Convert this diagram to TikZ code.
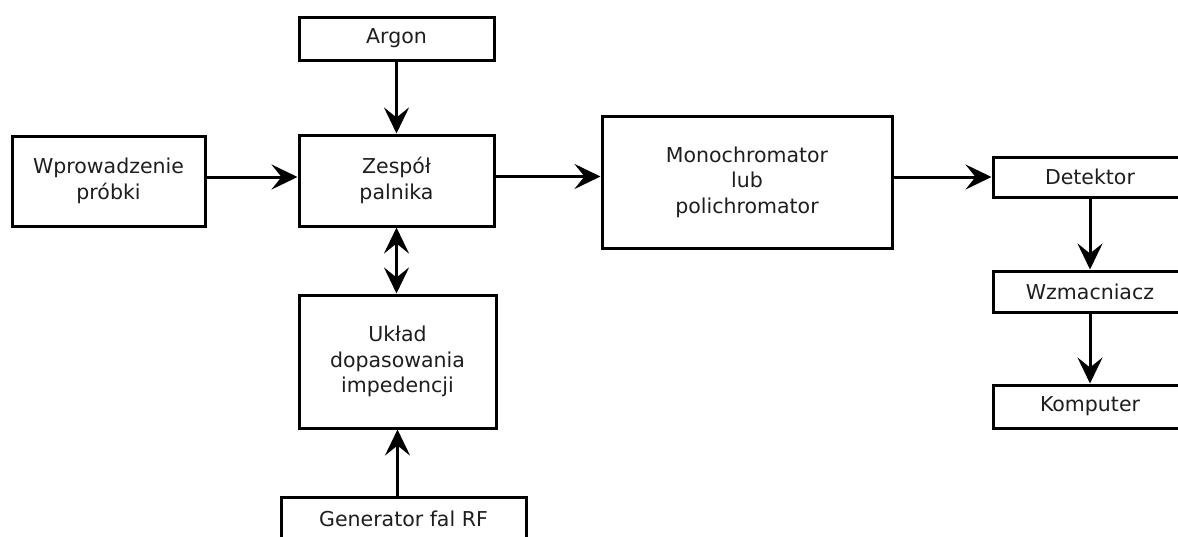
\documentclass[tikz,border=0pt]{standalone}
\usepackage{fontspec}
\setmainfont{DejaVu Sans}
\usetikzlibrary{arrows.meta}
\definecolor{txt}{HTML}{1E1E1E}
\tikzset{
  blk/.style={draw=black, line width=3pt, fill=white, inner sep=0pt, align=center,
    text=txt, font=\fontsize{20.5}{25.5}\selectfont},
  tip/.tip={Stealth[length=26pt,width=25pt,inset=10pt]},
  arr/.style={line width=3pt, -tip},
  darr/.style={line width=3pt, tip-tip}
}
\begin{document}
\begin{tikzpicture}[x=1pt,y=-1pt]
\clip (0,0) rectangle (1178,536);
\useasboundingbox (0,0) rectangle (1178,536);
\fill[white] (0,0) rectangle (1178,536);

\node[blk, minimum width=195pt, minimum height=43pt] (arg) at (396.5,38.5) {Argon};
\node[blk, minimum width=193pt, minimum height=90pt] (wp) at (108.5,181) {Wprowadzenie\\próbki};
\node[blk, minimum width=195pt, minimum height=91pt] (zes) at (396.5,180.5) {Zespół\\palnika};
\node[blk, minimum width=290pt, minimum height=132pt] (mono) at (747,182) {Monochromator\\lub\\polichromator};
\node[blk, minimum width=194pt, minimum height=40pt] (det) at (1090,177) {Detektor};
\node[blk, minimum width=194pt, minimum height=41pt] (wzm) at (1090,291.5) {Wzmacniacz};
\node[blk, minimum width=194pt, minimum height=43pt] (kom) at (1090,406.5) {Komputer};
\node[blk, minimum width=197pt, minimum height=133pt] (ukl) at (397.5,361.5) {Układ\\dopasowania\\impedencji};
\node[blk, minimum width=245pt, minimum height=43pt] (gen) at (403.5,518.5) {Generator fal RF};

\draw[arr] (arg.south) -- (arg.south |- zes.north);
\draw[arr] ([yshift=4pt]wp.east) -- ([yshift=4pt]wp.east -| zes.west);
\draw[arr] ([yshift=4pt]zes.east) -- ([yshift=4pt]zes.east -| mono.west);
\draw[arr] (mono.east |- det.west) -- (det.west);
\draw[darr] (zes.south) -- (zes.south |- ukl.north);
\draw[arr] (ukl.south |- gen.north) -- (ukl.south);
\draw[arr] (det.south) -- (wzm.north);
\draw[arr] (wzm.south) -- (kom.north);
\end{tikzpicture}
\end{document}
